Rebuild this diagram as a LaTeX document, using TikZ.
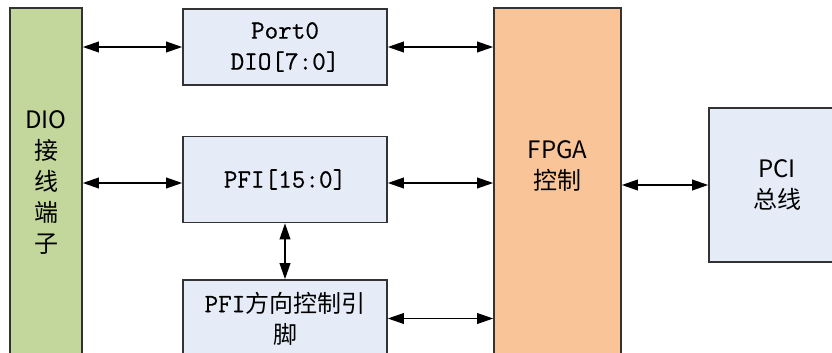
\documentclass[tikz,border=0pt]{standalone}
\usepackage{fontspec}
\setmainfont{Noto Sans CJK SC}
\newfontfamily\portfont{Latin Modern Mono}[Scale=1.1,FakeBold=0.6]
\usepackage{tikz}
\usetikzlibrary{calc,positioning,arrows.meta}
\usepackage{xcolor}
\definecolor{termgreen}{RGB}{195,214,155}
\definecolor{fpgaorange}{RGB}{248,196,152}
\definecolor{blockblue}{RGB}{230,236,247}
\definecolor{edgegray}{RGB}{51,51,51}

\begin{document}
\begin{tikzpicture}[x=0.75pt,y=-0.75pt,>={Triangle[length=12pt,width=8pt]}]
  \tikzset{
    blk/.style={draw=edgegray,line width=1.2pt,fill=blockblue,inner sep=0pt,align=center,
                font=\fontsize{18}{23.25}\selectfont},
    term/.style={blk,fill=termgreen}, ctrl/.style={blk,fill=fpgaorange},
    conn/.style={<->,line width=1.1pt},
  }
  \useasboundingbox (0,0) rectangle (832,353);
  \clip (0,0) rectangle (832,353);

  \node[term,minimum width=54pt,minimum height=262.5pt] (dio) at (46,183) {DIO\\接\\线\\端\\子};
  \node[blk,minimum width=153pt,minimum height=57pt] (port) at (285,47) {\portfont Port0\\\portfont DIO[7:0]};
  \node[blk,minimum width=153pt,minimum height=64.5pt] (pfi) at (285,179.5) {\portfont PFI[15:0]};
  \node[blk,minimum width=153pt,minimum height=57.75pt] (pfidir) at (285,318.5) {{\portfont PFI}方向控制引\\脚};
  \node[ctrl,minimum width=95.25pt,minimum height=279pt] (fpga) at (557.5,194) {};
  \node[font=\fontsize{18}{23.25}\selectfont,align=center] (fpgatxt) at (557.5,166) {FPGA\\控制};
  \node[blk,minimum width=102pt,minimum height=115.5pt] (pci) at (777,185) {PCI\\总线};

  \draw[conn] (dio.east |- port.west) -- (port.west);
  \draw[conn] (dio.east |- 0,183) -- (pfi.west |- 0,183);
  \draw[conn] (port.east) -- (port.east -| fpga.west);
  \draw[conn] (pfi.east |- 0,183) -- (fpga.west |- 0,183);
  \draw[conn] (pfidir.east) -- (pfidir.east -| fpga.west);
  \draw[conn] (pfi.south) -- (pfidir.north);
  \draw[conn] (fpga.east |- pci.west) -- (pci.west);
\end{tikzpicture}
\end{document}
